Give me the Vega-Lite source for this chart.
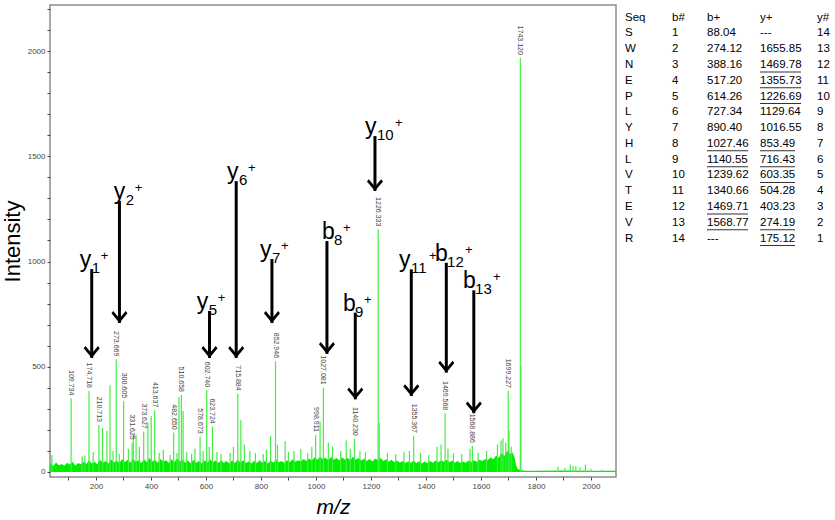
{
  "$schema": "https://vega.github.io/schema/vega-lite/v6.json",
  "padding": {"left": 0, "top": 4, "right": 0, "bottom": 0},
  "background": "white",
  "spacing": 5,
  "config": {"font": "Liberation Sans", "view": {"stroke": null}, "axis": {"labelOverlap": false, "labelFlush": false}},
  "datasets": {
    "noise": [
      {"mz":33,"i":30},{"mz":35,"i":40},{"mz":45,"i":28},{"mz":55,"i":45},{"mz":65,"i":32},{"mz":75,"i":38},{"mz":85,"i":30},{"mz":95,"i":44},{"mz":105,"i":35},{"mz":115,"i":48},{"mz":125,"i":30},{"mz":135,"i":42},{"mz":145,"i":36},{"mz":155,"i":50},{"mz":165,"i":38},{"mz":175,"i":55},{"mz":185,"i":40},{"mz":195,"i":48},{"mz":205,"i":36},{"mz":215,"i":58},{"mz":225,"i":42},{"mz":235,"i":52},{"mz":245,"i":40},{"mz":255,"i":60},{"mz":265,"i":45},{"mz":275,"i":55},{"mz":285,"i":42},{"mz":295,"i":62},{"mz":305,"i":46},{"mz":315,"i":58},{"mz":325,"i":44},{"mz":335,"i":64},{"mz":345,"i":48},{"mz":355,"i":56},{"mz":365,"i":42},{"mz":375,"i":60},{"mz":385,"i":46},{"mz":395,"i":66},{"mz":405,"i":50},{"mz":415,"i":58},{"mz":425,"i":44},{"mz":435,"i":62},{"mz":445,"i":48},{"mz":455,"i":56},{"mz":465,"i":42},{"mz":475,"i":60},{"mz":485,"i":46},{"mz":495,"i":64},{"mz":505,"i":50},{"mz":515,"i":58},{"mz":525,"i":44},{"mz":535,"i":54},{"mz":545,"i":40},{"mz":555,"i":58},{"mz":565,"i":44},{"mz":575,"i":52},{"mz":585,"i":40},{"mz":595,"i":56},{"mz":605,"i":44},{"mz":615,"i":60},{"mz":625,"i":46},{"mz":635,"i":54},{"mz":645,"i":42},{"mz":655,"i":56},{"mz":665,"i":44},{"mz":675,"i":52},{"mz":685,"i":40},{"mz":695,"i":55},{"mz":705,"i":42},{"mz":715,"i":58},{"mz":725,"i":46},{"mz":735,"i":54},{"mz":745,"i":42},{"mz":755,"i":50},{"mz":765,"i":40},{"mz":775,"i":52},{"mz":785,"i":42},{"mz":795,"i":56},{"mz":805,"i":44},{"mz":815,"i":52},{"mz":825,"i":40},{"mz":835,"i":54},{"mz":845,"i":44},{"mz":855,"i":58},{"mz":865,"i":46},{"mz":875,"i":52},{"mz":885,"i":42},{"mz":895,"i":56},{"mz":905,"i":46},{"mz":915,"i":60},{"mz":925,"i":48},{"mz":935,"i":56},{"mz":945,"i":50},{"mz":955,"i":62},{"mz":965,"i":52},{"mz":975,"i":64},{"mz":985,"i":54},{"mz":995,"i":70},{"mz":1005,"i":58},{"mz":1015,"i":72},{"mz":1025,"i":60},{"mz":1035,"i":68},{"mz":1045,"i":56},{"mz":1055,"i":72},{"mz":1065,"i":58},{"mz":1075,"i":66},{"mz":1085,"i":54},{"mz":1095,"i":70},{"mz":1105,"i":58},{"mz":1115,"i":68},{"mz":1125,"i":56},{"mz":1135,"i":72},{"mz":1145,"i":58},{"mz":1155,"i":66},{"mz":1165,"i":54},{"mz":1175,"i":64},{"mz":1185,"i":52},{"mz":1195,"i":62},{"mz":1205,"i":50},{"mz":1215,"i":64},{"mz":1225,"i":56},{"mz":1235,"i":66},{"mz":1245,"i":52},{"mz":1255,"i":60},{"mz":1265,"i":48},{"mz":1275,"i":58},{"mz":1285,"i":46},{"mz":1295,"i":54},{"mz":1305,"i":44},{"mz":1315,"i":52},{"mz":1325,"i":42},{"mz":1335,"i":50},{"mz":1345,"i":44},{"mz":1355,"i":54},{"mz":1365,"i":42},{"mz":1375,"i":50},{"mz":1385,"i":40},{"mz":1395,"i":48},{"mz":1405,"i":42},{"mz":1415,"i":52},{"mz":1425,"i":44},{"mz":1435,"i":54},{"mz":1445,"i":46},{"mz":1455,"i":56},{"mz":1465,"i":48},{"mz":1475,"i":58},{"mz":1485,"i":46},{"mz":1495,"i":54},{"mz":1505,"i":44},{"mz":1515,"i":52},{"mz":1525,"i":42},{"mz":1535,"i":50},{"mz":1545,"i":44},{"mz":1555,"i":54},{"mz":1565,"i":46},{"mz":1575,"i":56},{"mz":1585,"i":48},{"mz":1595,"i":58},{"mz":1605,"i":52},{"mz":1615,"i":62},{"mz":1625,"i":56},{"mz":1635,"i":70},{"mz":1645,"i":60},{"mz":1655,"i":78},{"mz":1665,"i":68},{"mz":1675,"i":90},{"mz":1685,"i":76},{"mz":1695,"i":100},{"mz":1705,"i":85},{"mz":1715,"i":92},{"mz":1722,"i":70},{"mz":1728,"i":30},{"mz":1735,"i":12},{"mz":1742,"i":10},{"mz":1750,"i":8},{"mz":1760,"i":6},{"mz":1800,"i":6},{"mz":1900,"i":7},{"mz":2000,"i":6},{"mz":2091,"i":6}
    ],
    "peaks": [
      {"mz":40,"i":80},{"mz":109.734,"i":350,"l":"109.734"},{"mz":150,"i":75},{"mz":160,"i":78},{"mz":174.718,"i":385,"l":"174.718"},{"mz":190,"i":95},{"mz":210.713,"i":223,"l":"210.713"},{"mz":224,"i":210},{"mz":240,"i":195},{"mz":251,"i":412},{"mz":262,"i":100},{"mz":273.669,"i":535,"l":"273.669"},{"mz":285,"i":85},{"mz":300.605,"i":337,"l":"300.605"},{"mz":318,"i":110},{"mz":331.625,"i":139,"l":"331.625"},{"mz":336,"i":179},{"mz":346,"i":175},{"mz":358,"i":120},{"mz":373.627,"i":191,"l":"373.627"},{"mz":389,"i":234},{"mz":401,"i":266},{"mz":413.637,"i":293,"l":"413.637"},{"mz":430,"i":90},{"mz":445,"i":105},{"mz":470,"i":80},{"mz":482.65,"i":187,"l":"482.650"},{"mz":495,"i":90},{"mz":502,"i":356},{"mz":510.658,"i":366,"l":"510.658"},{"mz":517,"i":290},{"mz":530,"i":95},{"mz":548,"i":85},{"mz":560,"i":110},{"mz":578.673,"i":168,"l":"578.673"},{"mz":590,"i":100},{"mz":602.74,"i":389,"l":"602.740"},{"mz":612,"i":120},{"mz":623.724,"i":215,"l":"623.724"},{"mz":640,"i":95},{"mz":655,"i":85},{"mz":688,"i":90},{"mz":700,"i":120},{"mz":715.884,"i":372,"l":"715.884"},{"mz":727,"i":247},{"mz":740,"i":130},{"mz":760,"i":100},{"mz":780,"i":90},{"mz":808,"i":85},{"mz":820,"i":105},{"mz":835,"i":171},{"mz":852.946,"i":527,"l":"852.946"},{"mz":860,"i":130},{"mz":888,"i":147},{"mz":900,"i":95},{"mz":920,"i":100},{"mz":945,"i":110},{"mz":970,"i":90},{"mz":985,"i":120},{"mz":998.911,"i":176,"l":"998.911"},{"mz":1015,"i":239},{"mz":1027.081,"i":401,"l":"1027.081"},{"mz":1045,"i":140},{"mz":1060,"i":120},{"mz":1090,"i":100},{"mz":1110,"i":150},{"mz":1125,"i":110},{"mz":1140.23,"i":158,"l":"1140.230"},{"mz":1160,"i":100},{"mz":1180,"i":95},{"mz":1226.333,"i":1153,"l":"1226.333"},{"mz":1230,"i":234},{"mz":1260,"i":90},{"mz":1290,"i":85},{"mz":1320,"i":95},{"mz":1340,"i":100},{"mz":1355.367,"i":171,"l":"1355.367"},{"mz":1380,"i":90},{"mz":1410,"i":80},{"mz":1440,"i":120},{"mz":1455,"i":130},{"mz":1469.568,"i":279,"l":"1469.568"},{"mz":1480,"i":110},{"mz":1500,"i":90},{"mz":1530,"i":85},{"mz":1560,"i":110},{"mz":1568.886,"i":124,"l":"1568.886"},{"mz":1590,"i":90},{"mz":1620,"i":100},{"mz":1660,"i":130},{"mz":1673,"i":150},{"mz":1680,"i":160},{"mz":1690,"i":140},{"mz":1699.227,"i":385,"l":"1699.227"},{"mz":1702,"i":195},{"mz":1710,"i":120},{"mz":1743.12,"i":1968,"l":"1743.120"},{"mz":1745,"i":500},{"mz":1880,"i":25},{"mz":1905,"i":20},{"mz":1925,"i":35},{"mz":1935,"i":30},{"mz":1945,"i":28},{"mz":1960,"i":22},{"mz":1980,"i":35},{"mz":2000,"i":15},{"mz":2040,"i":12}
    ],
    "ions": [
      {"ion":"y","n":"1","mz":184.7,"lmz":141,"top":964,"tip":542},
      {"ion":"y","n":"2","mz":285.5,"lmz":265,"top":1287,"tip":708},
      {"ion":"y","n":"5","mz":613,"lmz":567,"top":765,"tip":542},
      {"ion":"y","n":"6","mz":710,"lmz":677,"top":1382,"tip":542},
      {"ion":"y","n":"7","mz":840,"lmz":797,"top":1012,"tip":708},
      {"ion":"b","n":"8","mz":1040,"lmz":1022,"top":1097,"tip":561},
      {"ion":"b","n":"9","mz":1143,"lmz":1098,"top":757,"tip":345},
      {"ion":"y","n":"10","mz":1214.6,"lmz":1178,"top":1596,"tip":1335},
      {"ion":"y","n":"11","mz":1346.7,"lmz":1302,"top":963,"tip":361},
      {"ion":"b","n":"12","mz":1474,"lmz":1433,"top":994,"tip":472},
      {"ion":"b","n":"13","mz":1574,"lmz":1535,"top":863,"tip":279}
    ],
    "table": [
      {"r":0,"c":1,"t":"Seq"},{"r":0,"c":2,"t":"b#"},{"r":0,"c":3,"t":"b+"},{"r":0,"c":4,"t":"y+"},{"r":0,"c":5,"t":"y#"},
      {"r":1,"c":1,"t":"S"},{"r":1,"c":2,"t":"1"},{"r":1,"c":3,"t":"88.04"},{"r":1,"c":4,"t":"---"},{"r":1,"c":5,"t":"14"},
      {"r":2,"c":1,"t":"W"},{"r":2,"c":2,"t":"2"},{"r":2,"c":3,"t":"274.12"},{"r":2,"c":4,"t":"1655.85"},{"r":2,"c":5,"t":"13"},
      {"r":3,"c":1,"t":"N"},{"r":3,"c":2,"t":"3"},{"r":3,"c":3,"t":"388.16"},{"r":3,"c":4,"t":"1469.78","u":1},{"r":3,"c":5,"t":"12"},
      {"r":4,"c":1,"t":"E"},{"r":4,"c":2,"t":"4"},{"r":4,"c":3,"t":"517.20"},{"r":4,"c":4,"t":"1355.73","u":1},{"r":4,"c":5,"t":"11"},
      {"r":5,"c":1,"t":"P"},{"r":5,"c":2,"t":"5"},{"r":5,"c":3,"t":"614.26"},{"r":5,"c":4,"t":"1226.69","u":1},{"r":5,"c":5,"t":"10"},
      {"r":6,"c":1,"t":"L"},{"r":6,"c":2,"t":"6"},{"r":6,"c":3,"t":"727.34"},{"r":6,"c":4,"t":"1129.64"},{"r":6,"c":5,"t":"9"},
      {"r":7,"c":1,"t":"Y"},{"r":7,"c":2,"t":"7"},{"r":7,"c":3,"t":"890.40"},{"r":7,"c":4,"t":"1016.55"},{"r":7,"c":5,"t":"8"},
      {"r":8,"c":1,"t":"H"},{"r":8,"c":2,"t":"8"},{"r":8,"c":3,"t":"1027.46","u":1},{"r":8,"c":4,"t":"853.49","u":1},{"r":8,"c":5,"t":"7"},
      {"r":9,"c":1,"t":"L"},{"r":9,"c":2,"t":"9"},{"r":9,"c":3,"t":"1140.55","u":1},{"r":9,"c":4,"t":"716.43","u":1},{"r":9,"c":5,"t":"6"},
      {"r":10,"c":1,"t":"V"},{"r":10,"c":2,"t":"10"},{"r":10,"c":3,"t":"1239.62"},{"r":10,"c":4,"t":"603.35","u":1},{"r":10,"c":5,"t":"5"},
      {"r":11,"c":1,"t":"T"},{"r":11,"c":2,"t":"11"},{"r":11,"c":3,"t":"1340.66"},{"r":11,"c":4,"t":"504.28"},{"r":11,"c":5,"t":"4"},
      {"r":12,"c":1,"t":"E"},{"r":12,"c":2,"t":"12"},{"r":12,"c":3,"t":"1469.71","u":1},{"r":12,"c":4,"t":"403.23"},{"r":12,"c":5,"t":"3"},
      {"r":13,"c":1,"t":"V"},{"r":13,"c":2,"t":"13"},{"r":13,"c":3,"t":"1568.77","u":1},{"r":13,"c":4,"t":"274.19","u":1},{"r":13,"c":5,"t":"2"},
      {"r":14,"c":1,"t":"R"},{"r":14,"c":2,"t":"14"},{"r":14,"c":3,"t":"---"},{"r":14,"c":4,"t":"175.12","u":1},{"r":14,"c":5,"t":"1"}
    ]
  },
  "hconcat": [
    {
      "width": 566,
      "height": 472,
      "view": {"stroke": "#8c8c8c", "strokeWidth": 1.5},
      "resolve": {"axis": {"x": "independent", "y": "independent"}},
      "layer": [
        {
          "data": {"name": "noise"},
          "mark": {"type": "area", "color": "#00ee00", "opacity": 1, "clip": true},
          "encoding": {
            "x": {"field": "mz", "type": "quantitative",
              "scale": {"domain": [33, 2091], "nice": false, "zero": false},
              "axis": {"orient": "bottom", "title": "m/z", "titleFontStyle": "italic", "titleFontSize": 21, "titleFontWeight": "normal", "titleColor": "#000", "titlePadding": 6,
                "values": [200,400,600,800,1000,1200,1400,1600,1800,2000],
                "format": "d",
                "labelFontSize": 8, "labelColor": "#444", "labelPadding": 2, "labelOverlap": false,
                "tickSize": 3, "tickColor": "#444", "domain": false, "grid": false}},
            "y": {"field": "i", "type": "quantitative",
              "scale": {"domain": [-24, 2219], "nice": false, "zero": false},
              "axis": {"orient": "left", "title": "Intensity", "titleFontSize": 22, "titleFontWeight": "normal", "titleColor": "#000", "titlePadding": 3,
                "values": [0,500,1000,1500,2000],
                "format": "d",
                "labelFontSize": 8, "labelColor": "#444", "labelPadding": 2, "labelOverlap": false,
                "tickSize": 3, "tickColor": "#444", "domain": false, "grid": false}},
            "y2": {"datum": 0}
          }
        },
        {
          "data": {"name": "peaks"},
          "mark": {"type": "rule", "color": "#44ee44", "strokeWidth": 1.2},
          "encoding": {
            "x": {"field": "mz", "type": "quantitative",
              "axis": {"orient": "bottom", "title": null, "labels": false, "domain": false, "grid": false, "tickSize": 3, "tickColor": "#444",
                "values": [100,300,500,700,900,1100,1300,1500,1700,1900]}},
            "y": {"field": "i", "type": "quantitative",
              "axis": {"orient": "left", "title": null, "labels": false, "domain": false, "grid": false, "tickSize": 3, "tickColor": "#444",
                "values": [100,200,300,400,600,700,800,900,1100,1200,1300,1400,1600,1700,1800,1900,2100,2200]}},
            "y2": {"datum": 0}
          }
        },
        {
          "data": {"name": "peaks"},
          "transform": [{"filter": "datum.l != null"}],
          "mark": {"type": "text", "angle": 90, "align": "right", "baseline": "middle", "fontSize": 7, "color": "#444", "dx": -3},
          "encoding": {
            "x": {"field": "mz", "type": "quantitative", "axis": null},
            "y": {"field": "i", "type": "quantitative", "axis": null},
            "text": {"field": "l"}
          }
        },
        {
          "data": {"name": "ions"},
          "mark": {"type": "rule", "color": "#000", "strokeWidth": 3},
          "encoding": {
            "x": {"field": "mz", "type": "quantitative", "axis": null},
            "y": {"field": "top", "type": "quantitative", "axis": null},
            "y2": {"field": "tip"}
          }
        },
        {
          "data": {"name": "ions"},
          "mark": {"type": "point", "filled": true, "color": "#000", "opacity": 1, "size": 256,
            "shape": "M0,0 L-1,-1.2 L-0.78,-1.48 L0,-0.55 L0.78,-1.48 L1,-1.2 Z"},
          "encoding": {
            "x": {"field": "mz", "type": "quantitative", "axis": null},
            "y": {"field": "tip", "type": "quantitative", "axis": null}
          }
        },
        {
          "data": {"name": "ions"},
          "mark": {"type": "text", "fontSize": 23, "align": "left", "baseline": "alphabetic", "dy": -2, "color": "#000"},
          "encoding": {
            "x": {"field": "lmz", "type": "quantitative", "axis": null},
            "y": {"field": "top", "type": "quantitative", "axis": null},
            "text": {"field": "ion"}
          }
        },
        {
          "data": {"name": "ions"},
          "mark": {"type": "text", "fontSize": 15, "align": "left", "baseline": "alphabetic", "dx": 12, "dy": 4, "color": "#000"},
          "encoding": {
            "x": {"field": "lmz", "type": "quantitative", "axis": null},
            "y": {"field": "top", "type": "quantitative", "axis": null},
            "text": {"field": "n"}
          }
        },
        {
          "data": {"name": "ions"},
          "transform": [{"filter": "length(datum.n) == 1"}],
          "mark": {"type": "text", "fontSize": 13, "align": "left", "baseline": "alphabetic", "dx": 21, "dy": -9, "color": "#000", "text": "+"},
          "encoding": {
            "x": {"field": "lmz", "type": "quantitative", "axis": null},
            "y": {"field": "top", "type": "quantitative", "axis": null}
          }
        },
        {
          "data": {"name": "ions"},
          "transform": [{"filter": "length(datum.n) == 2"}],
          "mark": {"type": "text", "fontSize": 13, "align": "left", "baseline": "alphabetic", "dx": 30, "dy": -9, "color": "#000", "text": "+"},
          "encoding": {
            "x": {"field": "lmz", "type": "quantitative", "axis": null},
            "y": {"field": "top", "type": "quantitative", "axis": null}
          }
        }
      ]
    },
    {
      "width": 217,
      "height": 472,
      "data": {"name": "table"},
      "layer": [
        {
          "mark": {"type": "text", "align": "left", "baseline": "middle", "fontSize": 11.5, "color": "#000"},
          "encoding": {
            "x": {"field": "c", "type": "quantitative", "scale": {"domain": [1, 2, 3, 4, 5], "range": [3, 50, 85, 138, 195]}, "axis": null},
            "y": {"field": "r", "type": "quantitative", "scale": {"domain": [0, 14], "range": [12.7, 233.5]}, "axis": null},
            "text": {"field": "t"}
          }
        },
        {
          "transform": [{"filter": "datum.u == 1 && length(datum.t) == 7"}],
          "mark": {"type": "tick", "orient": "horizontal", "size": 41, "thickness": 1, "color": "#333", "xOffset": 20.5, "yOffset": 7, "opacity": 1},
          "encoding": {
            "x": {"field": "c", "type": "quantitative"},
            "y": {"field": "r", "type": "quantitative"}
          }
        },
        {
          "transform": [{"filter": "datum.u == 1 && length(datum.t) == 6"}],
          "mark": {"type": "tick", "orient": "horizontal", "size": 35, "thickness": 1, "color": "#333", "xOffset": 17.5, "yOffset": 7, "opacity": 1},
          "encoding": {
            "x": {"field": "c", "type": "quantitative"},
            "y": {"field": "r", "type": "quantitative"}
          }
        }
      ]
    }
  ]
}
